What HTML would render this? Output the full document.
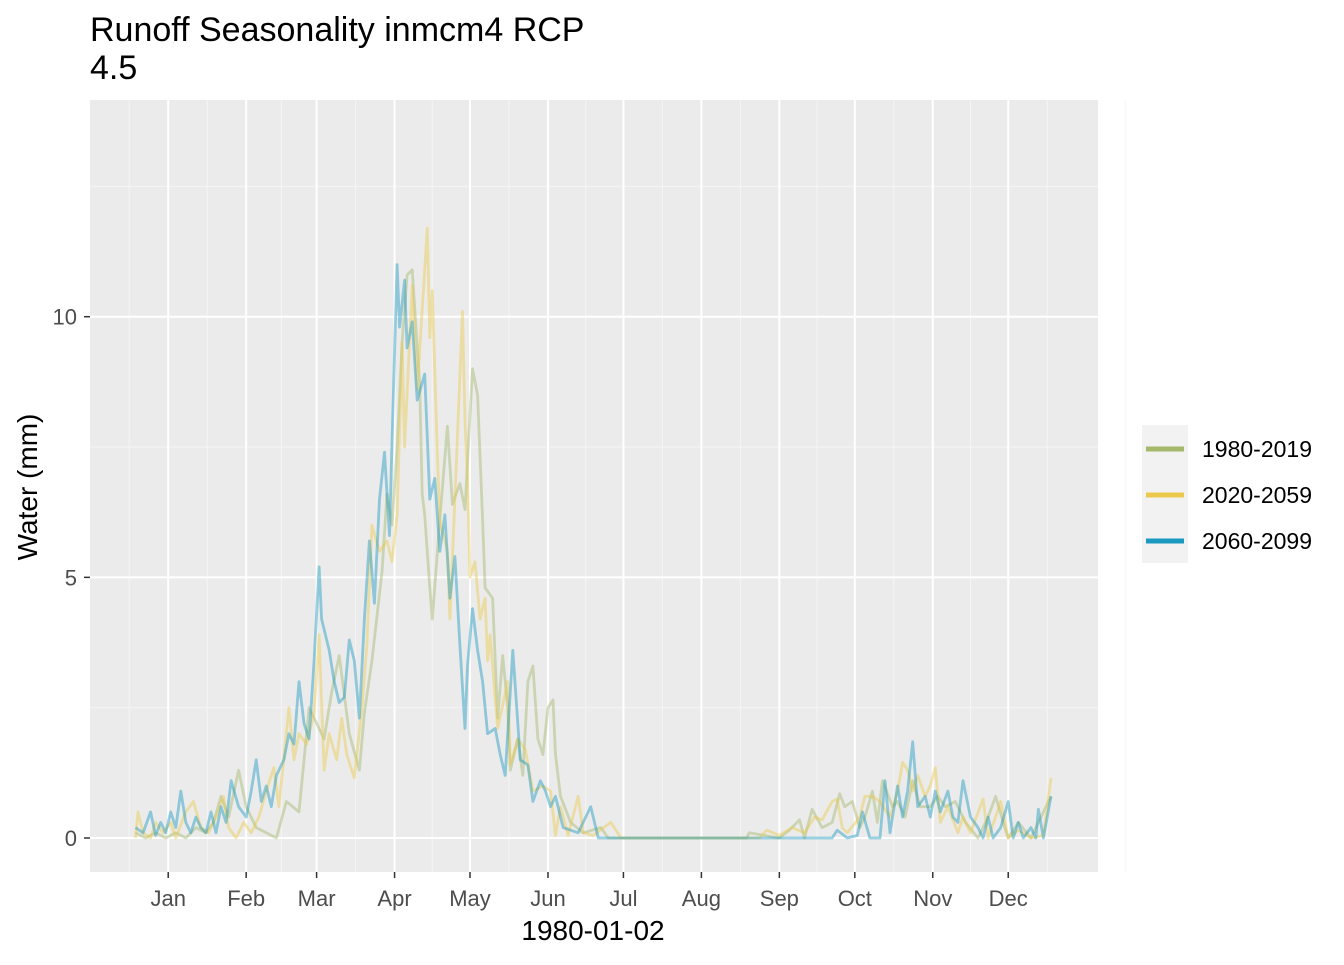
<!DOCTYPE html>
<html><head><meta charset="utf-8"><style>
body{margin:0;background:#fff;}
svg text{font-family:"Liberation Sans",Arial,sans-serif;}
</style></head><body>
<svg id="chart" width="1344" height="960" xmlns="http://www.w3.org/2000/svg">
<rect width="1344" height="960" fill="#fff"/>
<text x="90" y="41" font-size="34" fill="#000">Runoff Seasonality inmcm4 RCP</text>
<text x="90" y="79" font-size="34" fill="#000">4.5</text>
<rect x="90" y="100" width="1008" height="772" fill="#EBEBEB"/>
<g id="grid"></g>
<g id="series"></g>
<g id="axes"></g>
<text x="593" y="940" font-size="28" text-anchor="middle" fill="#000">1980-01-02</text>
<text transform="translate(37,487) rotate(-90)" font-size="28" text-anchor="middle" fill="#000">Water (mm)</text>
<g>
<rect x="1142" y="425" width="46" height="138" fill="#F2F2F2"/>
<g id="legend"></g>
</g>
</svg>
<script>
const monthLabels=["Jan","Feb","Mar","Apr","May","Jun","Jul","Aug","Sep","Oct","Nov","Dec"];
const monthTickDays=[15,46,74,105,135,166,196,227,258,288,319,349];
const yTicks=[0,5,10];
const seriesNames=["1980-2019","2020-2059","2060-2099"];
const seriesColors=["#A4B96C","#EBC94C","#1A9AC0"];
const greenDays=[2,6,10,14,18,22,26,30,33,36,39,43,46,50,54,58,62,67,71,74,77,80,83,87,91,93,96,100,102,104,106,108,110,112,115,116,117,119,120,123,126,128,131,133,136,138,140,141,144,146,148,150,151,154,156,158,160,162,164,166,168,169,171,175,180,187,190,245,246,258,262,266,268,271,275,279,282,284,287,290,292,295,297,299,303,305,308,311,314,318,321,324,328,332,337,341,344,347,349,353,358,366];
const greenValues=[0.1,0,0.1,0,0.1,0,0.2,0.1,0.3,0.8,0.4,1.3,0.6,0.2,0.1,0,0.7,0.5,2.5,2.2,1.9,2.8,3.5,2.0,1.3,2.4,3.4,5.1,6.6,6.0,7.5,9.5,10.8,10.9,8.7,6.6,6.2,4.8,4.2,6.1,7.9,6.4,6.8,6.3,9.0,8.5,6.1,4.8,4.6,2.3,3.5,2.5,1.3,1.9,1.2,3.0,3.3,1.9,1.6,2.5,2.65,1.6,0.8,0.3,0.1,0.2,0,0,0.1,0,0.15,0.35,0,0.55,0.2,0.3,0.85,0.6,0.7,0.2,0.4,0.9,0.3,1.1,0.6,0.7,0.4,1.1,0.6,0.6,0.8,0.6,0.7,0.3,0,0.4,0.8,0.3,0,0.3,0,0.8];
const yellowDays=[2,3,5,8,10,13,16,18,22,25,28,31,34,37,39,42,45,48,51,54,57,59,63,65,67,70,73,75,77,79,82,84,86,89,92,94,96,99,102,104,106,108,109,112,114,118,119,120,122,123,126,127,129,132,133,134,135,137,139,141,142,143,146,150,151,154,157,160,164,167,169,171,174,178,180,184,191,195,250,253,258,263,268,272,275,279,281,283,285,290,292,295,298,302,305,307,309,311,313,316,318,320,322,325,329,331,334,339,341,344,346,349,353,358,363,366];
const yellowValues=[0,0.5,0.1,0,0.3,0.1,0.3,0,0.5,0.7,0.2,0.1,0.4,0.8,0.2,0,0.3,0.1,0.4,0.9,1.35,0.6,2.5,1.5,2.0,1.8,2.4,3.9,1.3,2.0,1.5,2.3,1.6,1.15,2.5,3.7,6.0,5.5,5.7,5.3,6.2,9.5,7.5,10.6,8.6,11.7,9.6,10.5,7.4,6.1,5.5,4.2,6.5,10.1,8.0,6.9,5.0,5.3,4.2,4.6,3.4,3.9,2.1,3.0,1.4,1.9,1.7,0.9,1.0,0.9,0.05,0.6,0.05,0.8,0.1,0.05,0.3,0,0,0.15,0.05,0.2,0.1,0.4,0.35,0.7,0.75,0.2,0.1,0.4,0.8,0.8,0.7,0.4,0.9,1.45,1.3,0.9,1.2,0.8,1.0,1.35,0.3,0.6,0.1,0.4,0.1,0.75,0,0.4,0.7,0,0.15,0,0.05,1.15];
const blueDays=[2,5,8,10,12,14,16,18,20,22,24,26,28,30,32,34,36,38,40,43,46,48,50,52,54,56,58,61,63,65,67,69,71,73,75,76,79,81,83,85,87,89,91,93,95,97,99,101,103,104,106,107,109,110,112,114,117,119,121,123,125,127,129,131,133,134,136,138,140,142,145,147,149,152,155,158,160,163,165,167,169,172,178,183,186,279,281,285,289,291,294,298,300,302,305,307,309,311,313,316,318,320,322,325,327,329,331,334,337,339,341,343,346,349,351,353,355,358,360,361,363,366];
const blueValues=[0.2,0.1,0.5,0.05,0.3,0.1,0.5,0.2,0.9,0.3,0.1,0.4,0.2,0.1,0.5,0.1,0.6,0.3,1.1,0.6,0.4,0.9,1.5,0.7,1.0,0.6,1.2,1.5,2.0,1.8,3.0,2.2,1.9,3.4,5.2,4.2,3.6,3.0,2.6,2.7,3.8,3.4,2.3,4.2,5.7,4.5,6.5,7.4,5.8,7.6,11.0,9.8,10.7,9.4,9.9,8.4,8.9,6.5,6.9,5.5,6.2,4.6,5.4,3.7,2.1,3.3,4.4,3.6,3.0,2.0,2.1,1.6,1.2,3.6,1.5,1.4,0.7,1.1,0.9,0.6,0.8,0.2,0.1,0.6,0,0,0.15,0,0.05,0.5,0,0,1.1,0.1,1.0,0.4,0.9,1.85,0.6,0.8,0.4,0.9,0.5,0.9,0.4,0.3,1.1,0.4,0.2,0,0.4,0,0.2,0.7,0,0.3,0,0.2,0,0.55,0,0.8];

const NS="http://www.w3.org/2000/svg";
function xScale(d){return 133+(d-1)*2.515;}
function yScale(v){return 838-v*52.13;}
function mk(tag,attrs,parent){const e=document.createElementNS(NS,tag);for(const k in attrs)e.setAttribute(k,attrs[k]);parent.appendChild(e);return e;}
const grid=document.getElementById('grid'),axes=document.getElementById('axes'),ser=document.getElementById('series'),leg=document.getElementById('legend');
[2.5,7.5,12.5].forEach(v=>{const l=mk('line',{x1:90,x2:1098,y1:yScale(v),y2:yScale(v),stroke:'#F5F5F5','stroke-width':1},grid);

});
const mins=[monthTickDays[0]-15.5].concat(monthTickDays.map((d,i)=>i<11?(d+monthTickDays[i+1])/2:d+15.5)).concat([monthTickDays[11]+46.5]);
mins.forEach(d=>{const l=mk('line',{x1:xScale(d),x2:xScale(d),y1:100,y2:872,stroke:'#F5F5F5','stroke-width':1},grid);

});
yTicks.forEach(v=>{const y=yScale(v);
const l=mk('line',{x1:90,x2:1098,y1:y,y2:y,stroke:'#fff','stroke-width':2},grid);


const t=mk('line',{x1:84,x2:90,y1:y,y2:y,stroke:'#333','stroke-width':1.5},axes);


const tx=mk('text',{x:77,y:y+8,'font-size':22,'text-anchor':'end',fill:'#4D4D4D'},axes);tx.textContent=v;

});
monthTickDays.forEach((d,i)=>{const x=xScale(d);
const l=mk('line',{x1:x,x2:x,y1:100,y2:872,stroke:'#fff','stroke-width':2},grid);


const t=mk('line',{x1:x,x2:x,y1:872,y2:878,stroke:'#333','stroke-width':1.5},axes);


const tx=mk('text',{x:x,y:906,'font-size':22,'text-anchor':'middle',fill:'#4D4D4D'},axes);tx.textContent=monthLabels[i];

});
const allDays=[greenDays,yellowDays,blueDays],allVals=[greenValues,yellowValues,blueValues];
allDays.forEach((days,s)=>{const pts=days.map((d,i)=>xScale(d).toFixed(1)+','+yScale(allVals[s][i]).toFixed(1)).join(' ');
const p=mk('polyline',{points:pts,fill:'none',stroke:seriesColors[s],'stroke-width':2.8,'stroke-opacity':0.45,'stroke-linejoin':'round'},ser);

});
seriesNames.forEach((n,i)=>{const y=449+i*46;
const k=mk('line',{x1:1146,x2:1184,y1:y,y2:y,stroke:seriesColors[i],'stroke-width':5},leg);


const t=mk('text',{x:1202,y:y+8,'font-size':23,fill:'#000'},leg);t.textContent=n;

});
</script>
</body></html>
